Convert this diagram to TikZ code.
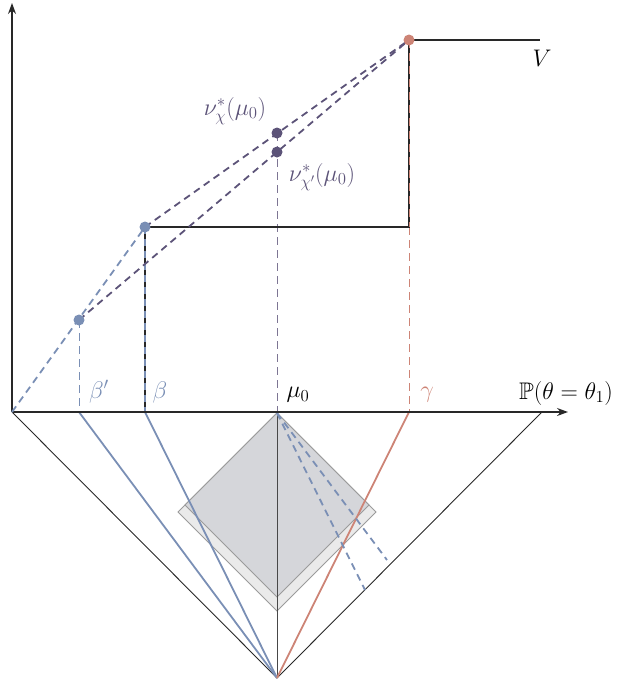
\RequirePackage{fix-cm}
\documentclass[tikz,border=0pt]{standalone}
\usepackage{amssymb}
\usetikzlibrary{arrows.meta}
\definecolor{bl}{RGB}{122,143,181}
\definecolor{rd}{RGB}{205,132,118}
\definecolor{pu}{RGB}{92,83,120}
\definecolor{dg}{RGB}{213,214,218}
\definecolor{lg}{RGB}{234,234,234}
\definecolor{bd}{RGB}{155,155,155}
\definecolor{ink}{RGB}{40,40,40}
\tikzset{
  axisline/.style={draw=ink,line width=1.2pt,-{Stealth[length=11pt,width=8pt]}},
  stepline/.style={draw=ink,line width=2.5pt},
  thinline/.style={draw=ink,line width=0.9pt},
  bluesolid/.style={draw=bl,line width=1.8pt},
  redsolid/.style={draw=rd,line width=1.8pt},
  bigdash/.style={line width=1.8pt,dash pattern=on 7pt off 5pt},
  thindash/.style={line width=1pt,dash pattern=on 8pt off 5pt},
  dot/.style={circle,inner sep=0pt,minimum size=11pt},
  lbl/.style={font=\fontsize{24}{28}\selectfont,inner sep=0pt},
  sq/.style={draw=bd,line width=1pt}
}
\begin{document}
\begin{tikzpicture}[x=1pt,y=-1pt]
\useasboundingbox (0,0) rectangle (618,686);
% coordinates
\coordinate (O) at (12,412);
\coordinate (Yt) at (12,3);
\coordinate (Xt) at (568,412);
\coordinate (Bp) at (79,412);
\coordinate (B) at (145,412);
\coordinate (M) at (277,412);
\coordinate (G) at (409,412);
\coordinate (R) at (542,412);
\coordinate (A) at (277,678);
\coordinate (P1) at (79,320);
\coordinate (P2) at (145,227);
\coordinate (P3) at (409,40);
\coordinate (Q1) at (277,133);
\coordinate (Q2) at (277,152);
\coordinate (H) at (409,227);
\coordinate (E) at (540,40);
\coordinate (T) at (277,413);
\coordinate (L1) at (376,512);
\coordinate (L2) at (277,611);
\coordinate (L3) at (178,512);
\coordinate (K1) at (369,505);
\coordinate (K2) at (277,597);
\coordinate (K3) at (185,505);
\coordinate (D1) at (365,590);
\coordinate (D2) at (387,560);
% squares
\path[sq,fill=lg] (T) -- (L1) -- (L2) -- (L3) -- cycle;
\path[sq,fill=dg] (T) -- (K1) -- (K2) -- (K3) -- cycle;
% triangle
\draw[thinline] (O) -- (A) -- (R);
\draw[draw=ink!85,line width=1pt] (M) -- (A);
% lower coloured lines
\draw[bluesolid] (Bp) -- (A);
\draw[bluesolid] (B) -- (A);
\draw[redsolid] (G) -- (A);
\draw[bl,bigdash] (T) -- (D1);
\draw[bl,bigdash] (T) -- (D2);
% vertical dashed guides
\draw[bl,thindash] (P1) -- (Bp);
\draw[pu!80,thindash] (Q1) -- (M);
\draw[rd,thindash] (H) -- (G);
% step function
\draw[stepline] (O) -- (B) -- (P2) -- (H) -- (P3) -- (E);
\draw[bl,bigdash] (P2) -- (B);
\draw[rd,line width=1pt,dash pattern=on 8pt off 5pt] (P3) -- (H);
% axes
\draw[axisline] (O) -- (Yt);
\draw[axisline] (O) -- (Xt);
% dashed chords
\draw[bl,bigdash] (O) -- (P2);
\draw[pu,bigdash] (P1) -- (P3);
\draw[pu,bigdash] (P2) -- (P3);
% dots
\node[dot,fill=bl] (n1) at (P1) {};
\node[dot,fill=bl] (n2) at (P2) {};
\node[dot,fill=rd] (n3) at (P3) {};
\node[dot,fill=pu] (n4) at (Q1) {};
\node[dot,fill=pu] (n5) at (Q2) {};
% labels
\node[lbl,text=bl] (lbp) at (99,392) {$\beta'$};
\node[lbl,text=bl] (lb) at (160,392) {$\beta$};
\node[lbl,text=black] (lm) at (298,395) {$\mu_0$};
\node[lbl,text=rd] (lg) at (427,395) {$\gamma$};
\node[lbl,text=black] (lp) at (566,393) {$\mathbb{P}(\theta=\theta_1)$};
\node[lbl,text=black] (lv) at (542,58) {$V$};
\node[lbl,text=pu] (lnu1) at (235,111) {$\nu^*_{\chi}(\mu_0)$};
\node[lbl,text=pu] (lnu2) at (322,177) {$\nu^*_{\chi'}(\mu_0)$};
\end{tikzpicture}
\end{document}
